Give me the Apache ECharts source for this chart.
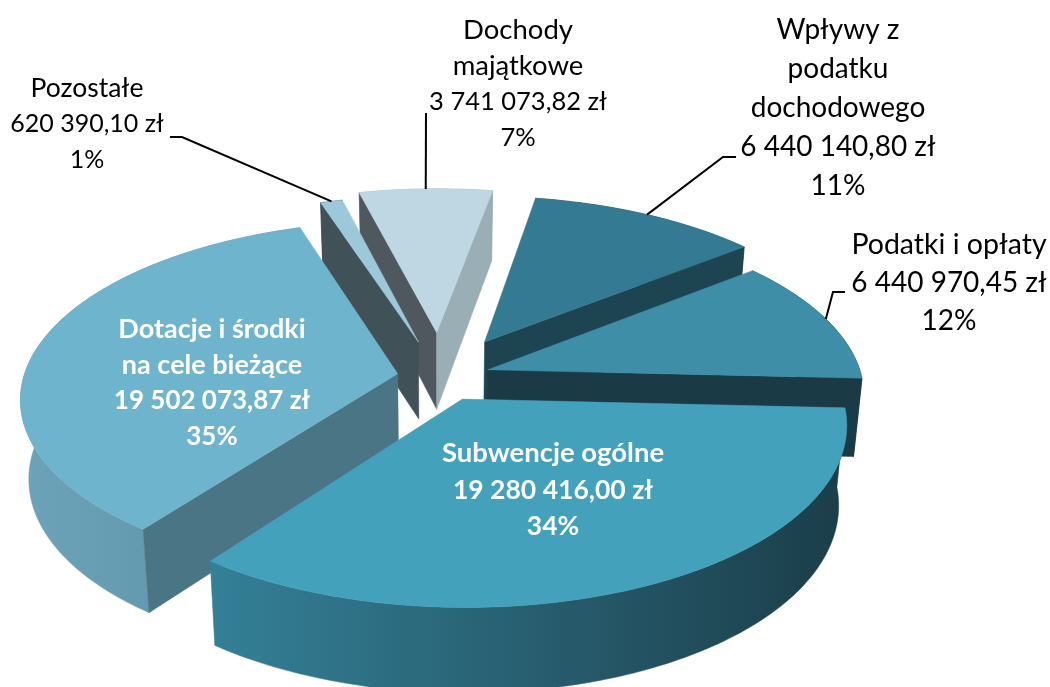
<!DOCTYPE html>
<html>
<head>
<meta charset="utf-8">
<style>
html, body { margin: 0; padding: 0; background: #fff; }
#chart { width: 1050px; height: 687px; }
</style>
<script src="https://cdn.jsdelivr.net/npm/echarts@6/dist/echarts.min.js"></script>
</head>
<body>
<div id="chart"></div>
<script>
// Data
var categories = ['Wpływy z\npodatku\ndochodowego', 'Podatki i opłaty', 'Subwencje ogólne', 'Dotacje i środki\nna cele bieżące', 'Pozostałe', 'Dochody\nmajątkowe'];
var amounts = [6440140.80, 6440970.45, 19280416.00, 19502073.87, 620390.10, 3741073.82];
var percentLabels = ['11%', '12%', '34%', '35%', '1%', '7%'];

// Perspective of the disc
var CX = 440, CY = 377, RX = 374, RY = 174, PERSP = 0.134, WALL = 78.4, START_DEG = 10;

// Per slice look, same order as the data
var pulls = [0.24, 0.135, 0.138, 0.115, 0.215, 0.265];
var paintRank = [2, 3, 5, 4, 1, 0];
var topColors = ['#337a92', '#3e8ea8', '#44a1bc', '#6fb4cd', '#9cc8da', '#bfd7e2'];
var startWallColors = ['#1d4451', '#1a3a46', '#1b3f4c', '#4a7585', '#415158', '#4f585e'];
var endWallColors = ['#1d4451', '#1a3a46', '#1b3f4c', '#4a7585', '#415158', '#9aaeb6'];
var arcWallColors = [
    ['#1d4451', '#1d4451'], ['#1a3a46', '#1a3a46'], ['#348097', '#1b3d49'],
    ['#6da3b8', '#5a8fa6'], ['#415158', '#415158'], ['#9aaeb6', '#9aaeb6']
];

// Label placement, sizes for the name lines and the number lines
var labelBoxes = [
    {x: 838, y: 108, name: 28, num: 28, lh: 39, color: '#000', weight: 'normal', leader: [[736, 157], [723, 157]]},
    {x: 949, y: 283, name: 28.5, num: 28, lh: 38, color: '#000', weight: 'normal', leader: [[845, 292], [833, 292]]},
    {x: 553, y: 490, name: 27.5, num: 26.5, lh: 36.5, color: '#fff', weight: 'bold'},
    {x: 212, y: 383, name: 27, num: 26, lh: 36, color: '#fff', weight: 'bold'},
    {x: 87, y: 124, name: 26.5, num: 25, lh: 36, color: '#000', weight: 'normal', leader: [[170, 137], [182, 137]]},
    {x: 518, y: 84, name: 27.5, num: 25.5, lh: 36, color: '#000', weight: 'normal', leader: [[426, 113]]}
];

var total = amounts.reduce(function(a, b) { return a + b; }, 0);

// "6 440 140,80 zł"
function formatAmount(v) {
    var parts = v.toFixed(2).split('.');
    return parts[0].replace(/\B(?=(\d{3})+$)/g, ' ') + ',' + parts[1] + ' zł';
}

function sliceAngles(idx) {
    var before = 0;
    for (var i = 0; i < idx; i++) before += amounts[i];
    var a = START_DEG + before / total * 360;
    var b = a + amounts[idx] / total * 360;
    return [a, b];
}

// Slice point on the disc, theta in degrees clockwise from the back
function discPoint(theta, r, mid, pull) {
    var t = theta * Math.PI / 180, m = mid * Math.PI / 180;
    return [r * Math.sin(t) + pull * Math.sin(m), r * Math.cos(t) + pull * Math.cos(m)];
}

function projectTop(p) {
    var s = 1 / (1 + PERSP * p[1]);
    return [CX + RX * p[0] * s, CY - RY * p[1] * s];
}

function projectBottom(p) {
    var top = projectTop(p);
    return [CX + (top[0] - CX) * 0.98, top[1] + WALL * (1 - 0.08 * p[1])];
}

function polygon(points, fill, z2) {
    return {
        type: 'polygon',
        shape: {points: points},
        style: {fill: fill, stroke: fill, lineWidth: 0.5},
        z2: z2,
        silent: true
    };
}

function renderSlice(params, api) {
    var idx = params.dataIndex;
    var ang = sliceAngles(idx);
    var a = ang[0], b = ang[1], mid = (a + b) / 2, pull = pulls[idx];
    var base = paintRank[idx] * 10;
    var apex = discPoint(a, 0, mid, pull);

    var rim = [];
    var steps = Math.max(2, Math.ceil(b - a));
    for (var i = 0; i <= steps; i++) {
        rim.push(discPoint(a + (b - a) * i / steps, 1, mid, pull));
    }
    var first = rim[0], last = rim[rim.length - 1];
    var apexTop = projectTop(apex);

    var children = [];
    // arc wall, radial walls, then the top covers what faces away
    var arcPts = rim.map(projectTop).concat(rim.slice().reverse().map(projectBottom));
    children.push(polygon(arcPts, new echarts.graphic.LinearGradient(0, 0, 1, 0, [
        {offset: 0, color: arcWallColors[idx][0]},
        {offset: 1, color: arcWallColors[idx][1]}
    ]), base + 1));
    // a radial wall only shows when its edge runs away from the slice on screen
    if (projectTop(first)[0] < apexTop[0]) {
        children.push(polygon([apexTop, projectTop(first), projectBottom(first), projectBottom(apex)], startWallColors[idx], base + 2));
    }
    if (projectTop(last)[0] > apexTop[0]) {
        children.push(polygon([apexTop, projectTop(last), projectBottom(last), projectBottom(apex)], endWallColors[idx], base + 2));
    }
    children.push(polygon([apexTop].concat(rim.map(projectTop)), topColors[idx], base + 3));

    // label and leader
    var box = labelBoxes[idx];
    if (box.leader) {
        var anchor = projectTop(discPoint(mid, 1, mid, pull));
        children.push({
            type: 'polyline',
            shape: {points: box.leader.concat([anchor])},
            style: {stroke: '#000', lineWidth: 2, fill: null},
            z2: 500,
            silent: true
        });
    }
    var nameLines = categories[idx].split('\n').map(function(l) { return '{n|' + l + '}'; });
    var lines = nameLines.concat(['{v|' + formatAmount(api.value(0)) + '}', '{v|' + percentLabels[idx] + '}']);
    var font = {fontFamily: 'Lato, sans-serif', fontWeight: box.weight, fill: box.color, lineHeight: box.lh};
    children.push({
        type: 'text',
        style: {
            text: lines.join('\n'),
            x: box.x,
            y: box.y,
            align: 'center',
            verticalAlign: 'middle',
            fontFamily: font.fontFamily,
            fontSize: box.num,
            fontWeight: box.weight,
            lineHeight: box.lh,
            fill: box.color,
            rich: {
                n: Object.assign({fontSize: box.name}, font),
                v: Object.assign({fontSize: box.num}, font)
            }
        },
        z2: 1000,
        silent: true
    });

    return {type: 'group', children: children};
}

var chart = echarts.init(document.getElementById('chart'));
chart.setOption({
    animation: false,
    backgroundColor: '#fff',
    series: [{
        type: 'custom',
        coordinateSystem: 'none',
        renderItem: renderSlice,
        data: amounts.map(function(v) { return [v]; })
    }]
});
</script>
</body>
</html>
